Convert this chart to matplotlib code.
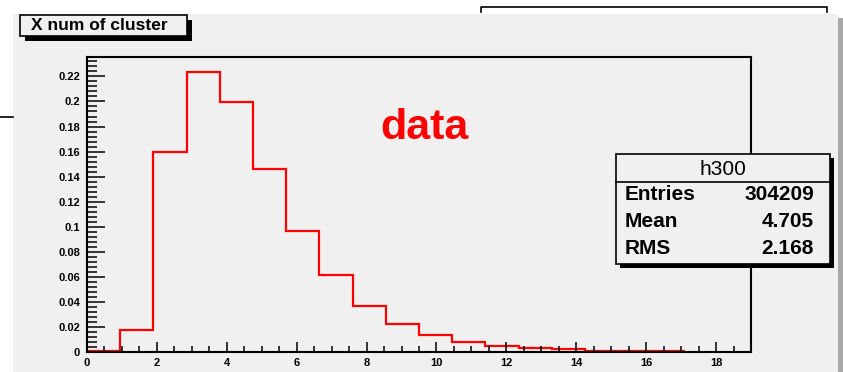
import numpy as np
import matplotlib.pyplot as plt
from matplotlib.patches import Rectangle
from matplotlib.lines import Line2D
from matplotlib.ticker import MultipleLocator, FormatStrFormatter

# histogram h300: X num of cluster, 20 bins over [0, 19], normalised
bin_edges = np.linspace(0, 19, 21)[:19]   # drawn part stops at 17.1
bin_values = [0.0005, 0.0176, 0.1597, 0.2235, 0.1996, 0.1460, 0.0968, 0.0612,
              0.0370, 0.0221, 0.0136, 0.0077, 0.0048, 0.0030, 0.0026, 0.0008,
              0.0008, 0.0007]
title = "X num of cluster"
stat_names = ["Entries", "Mean", "RMS"]
stat_values = ["304209", "4.705", "2.168"]

W, H = 843, 372
GRAY = "#f0f0f0"


def fx(x):
    return x / W


def fy(y):
    return 1 - y / H


def rect(fig, x0, y0, x1, y1, **kw):
    r = Rectangle((fx(x0), fy(y1)), fx(x1) - fx(x0), fy(y0) - fy(y1),
                  transform=fig.transFigure, **kw)
    fig.add_artist(r)
    return r


def line(fig, xs, ys, **kw):
    fig.add_artist(Line2D([fx(x) for x in xs], [fy(y) for y in ys],
                          transform=fig.transFigure, **kw))


def main():
    plt.rcParams['font.family'] = ['Liberation Sans', 'DejaVu Sans']
    fig = plt.figure(figsize=(W / 100, H / 100), dpi=100, facecolor="white")

    # canvas pad and its shadow
    rect(fig, 838, 18, 843, 372, facecolor="#a8a8a8", edgecolor="none", zorder=0)
    rect(fig, 13, 14, 838, 372, facecolor=GRAY, edgecolor="none", zorder=0)
    line(fig, [0, 13], [117, 117], color="black", lw=1.2)
    line(fig, [481, 481, 827, 827], [12, 7, 7, 12], color="black", lw=1.2)

    ax = fig.add_axes([fx(87), fy(352), fx(751) - fx(87), fy(57) - fy(352)])
    ax.set_facecolor(GRAY)
    ax.stairs(bin_values, bin_edges, color="red", linewidth=1.6, baseline=None)

    ax.set_xlim(0, 19)
    ax.set_ylim(0, 0.2355)
    ax.xaxis.set_major_locator(MultipleLocator(2))
    ax.xaxis.set_minor_locator(MultipleLocator(0.5))
    ax.yaxis.set_major_locator(MultipleLocator(0.02))
    ax.yaxis.set_minor_locator(MultipleLocator(0.004))
    ax.yaxis.set_major_formatter(FormatStrFormatter('%g'))
    ax.tick_params(direction="in", width=1.1, labelsize=8, colors="black")
    ax.tick_params(axis="x", which="major", length=7, pad=4)
    ax.tick_params(axis="x", which="minor", length=4, width=1.1, direction="in")
    ax.tick_params(axis="y", which="major", length=13, pad=5)
    ax.tick_params(axis="y", which="minor", length=7, width=1.1, direction="in")
    for lab in ax.get_xticklabels() + ax.get_yticklabels():
        lab.set_fontweight("bold")
    for sp in ax.spines.values():
        sp.set_linewidth(1.5)

    ax.text(0.508, 0.76, "data", transform=ax.transAxes, color="red",
            fontsize=31, fontweight="bold", ha="center", va="center")

    # title box
    rect(fig, 25, 20, 192, 41, facecolor="black", edgecolor="none", zorder=5)
    rect(fig, 20, 15, 187, 36, facecolor=GRAY, edgecolor="black", lw=1.2, zorder=6)
    fig.text(fx(31), fy(26), title, fontsize=12.5, fontweight="bold",
             ha="left", va="center", zorder=7)

    # stats box
    rect(fig, 620, 158, 834, 268, facecolor="black", edgecolor="none", zorder=5)
    rect(fig, 616, 154, 830, 264, facecolor=GRAY, edgecolor="black", lw=1.2, zorder=6)
    line(fig, [616, 830], [182, 182], color="black", lw=1.2, zorder=7)
    fig.text(fx(723), fy(169), "h300", fontsize=15, ha="center", va="center", zorder=7)
    for i, (name, val) in enumerate(zip(stat_names, stat_values)):
        y = 195 + 26.5 * i
        fig.text(fx(625), fy(y), name, fontsize=15, fontweight="bold",
                 ha="left", va="center", zorder=7)
        fig.text(fx(814), fy(y), val, fontsize=15, fontweight="bold",
                 ha="right", va="center", zorder=7)

    fig.savefig("out.png", dpi=100, facecolor="white")


if __name__ == '__main__':
    main()
